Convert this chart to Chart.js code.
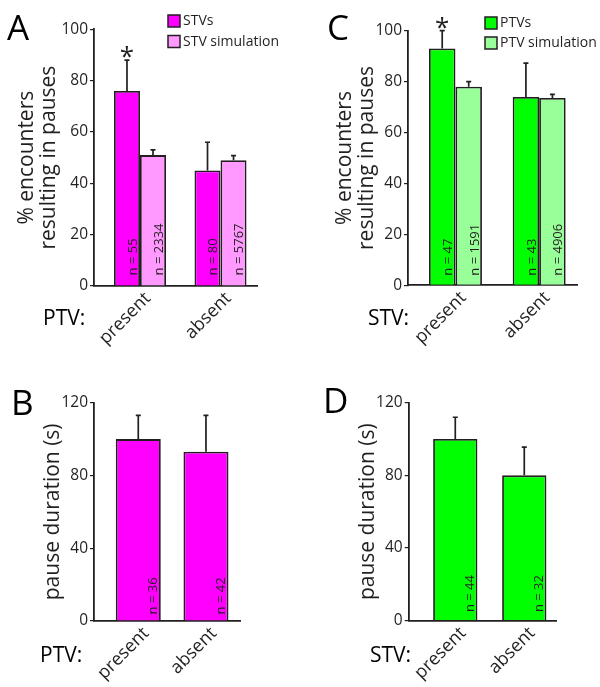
<!DOCTYPE html>
<html><head><meta charset="utf-8">
<script src="https://cdn.jsdelivr.net/npm/chart.js@4"></script>
<style>
html,body{margin:0;padding:0;background:#fff;}
body{width:600px;height:687px;position:relative;overflow:hidden;}
.p{position:absolute;}
canvas{display:block;}
</style></head><body>
<div class="p" style="left:0;top:0"><canvas id="cA" width="300" height="352"></canvas></div>
<div class="p" style="left:300px;top:0"><canvas id="cC" width="300" height="352"></canvas></div>
<div class="p" style="left:0;top:340px"><canvas id="cB" width="300" height="347"></canvas></div>
<div class="p" style="left:300px;top:340px"><canvas id="cD" width="300" height="347"></canvas></div>
<script>
// ---- categories ----
const groupCats = ['present', 'absent'];

// ---- Panel A: STVs, % encounters resulting in pauses (PTV present/absent) ----
const stvRate = [76, 45];
const stvRateErrTop = [88, 56];
const stvSimRate = [51, 49];
const stvSimRateErrTop = [53, 50.8];
const stvRateN = ['55', '80'];
const stvSimRateN = ['2334', '5767'];
const stvRateStar = ['*', ''];

// ---- Panel C: PTVs, % encounters resulting in pauses (STV present/absent) ----
const ptvRate = [93, 74];
const ptvRateErrTop = [100, 87.3];
const ptvSimRate = [78, 73.6];
const ptvSimRateErrTop = [80, 75];
const ptvRateN = ['47', '43'];
const ptvSimRateN = ['1591', '4906'];
const ptvRateStar = ['*', ''];

// ---- Panel B: STV pause duration (s) ----
const stvPause = [100, 93];
const stvPauseErrTop = [113, 113];
const stvPauseN = ['36', '42'];

// ---- Panel D: PTV pause duration (s) ----
const ptvPause = [100, 80];
const ptvPauseErrTop = [112, 95.5];
const ptvPauseN = ['44', '32'];

// ---- tick labels ----
const rateTicks = [0, 20, 40, 60, 80, 100];
const pauseTicks = [0, 40, 80, 120];

const F = "'Open Sans', sans-serif";
const INK = '#231f20';

function overlay(cfg) {
  return {
    id: 'overlay' + cfg.id,
    afterDatasetsDraw(chart) {
      const ctx = chart.ctx, ys = chart.scales.y;
      chart.data.datasets.forEach((ds, di) => {
        const meta = chart.getDatasetMeta(di);
        meta.data.forEach((bar, i) => {
          const top = ys.getPixelForValue(ds.errTop[i]);
          ctx.save();
          ctx.strokeStyle = INK; ctx.lineWidth = 1.7;
          ctx.beginPath();
          ctx.moveTo(bar.x, bar.y); ctx.lineTo(bar.x, top);
          ctx.moveTo(bar.x - 2.5, top); ctx.lineTo(bar.x + 2.5, top);
          ctx.stroke();
          if (ds.star && ds.star[i]) {
            ctx.font = `26px ${F}`; ctx.fillStyle = INK;
            ctx.textAlign = 'center'; ctx.textBaseline = 'alphabetic';
            ctx.fillText(ds.star[i], bar.x, top + 5);
          }
          ctx.translate(bar.x + bar.width / 2 - 3.3, bar.base - cfg.nLift);
          ctx.rotate(-Math.PI / 2);
          ctx.font = `13px ${F}`; ctx.fillStyle = INK;
          ctx.textAlign = 'left'; ctx.textBaseline = 'alphabetic';
          ctx.fillText('n = ' + ds.nLabels[i], 0, 0);
          ctx.restore();
        });
      });
    },
    afterDraw(chart) {
      const ctx = chart.ctx;
      ctx.save();
      ctx.fillStyle = '#000';
      ctx.textAlign = 'left'; ctx.textBaseline = 'alphabetic';
      ctx.font = `35px ${F}`;
      ctx.fillText(cfg.letter, cfg.letterX, cfg.letterY);
      ctx.font = `21px ${F}`;
      ctx.fillText(cfg.groupLabel, cfg.groupX, cfg.groupY);
      if (cfg.legend) {
        ctx.font = `14px ${F}`;
        ctx.textBaseline = 'middle';
        chart.data.datasets.forEach((ds, di) => {
          const bx = cfg.legend.x, by = cfg.legend.y + di * cfg.legend.step;
          ctx.fillStyle = ds.backgroundColor;
          ctx.fillRect(bx, by, 12, 12);
          ctx.strokeStyle = INK; ctx.lineWidth = 1.5;
          ctx.strokeRect(bx, by, 12, 12);
          ctx.fillStyle = INK;
          ctx.fillText(ds.label, bx + 15, by + 6.5);
        });
      }
      ctx.restore();
    }
  };
}

function makePanel(cfg) {
  const datasets = cfg.series.map(s => ({
    label: s.label,
    data: s.values.map((v, i) => ({ x: i, y: v })),
    backgroundColor: s.color,
    borderColor: INK,
    borderWidth: 1.8,
    categoryPercentage: cfg.catPct,
    barPercentage: 1,
    errTop: s.errTop,
    nLabels: s.n,
    star: s.star
  }));
  return new Chart(document.getElementById(cfg.id), {
    type: 'bar',
    data: { datasets },
    options: {
      responsive: false, animation: false, devicePixelRatio: 1,
      layout: { padding: { top: cfg.top, right: cfg.right, left: 0, bottom: 0 } },
      plugins: { legend: { display: false }, tooltip: { enabled: false } },
      scales: {
        x: {
          type: 'linear', min: cfg.xmin, max: cfg.xmax, offset: false,
          afterBuildTicks: s => { s.ticks = groupCats.map((c, i) => ({ value: i })); },
          afterFit: s => { s.height = cfg.xH; },
          grid: { display: false, drawTicks: false },
          border: { display: true, color: INK, width: 1.8 },
          ticks: {
            autoSkip: false, minRotation: 45, maxRotation: 45, labelOffset: 8, padding: 2,
            callback: v => groupCats[v],
            font: { family: F, size: 18 }, color: INK
          }
        },
        y: {
          min: 0, max: cfg.ymax,
          afterBuildTicks: s => { s.ticks = cfg.yTicks.map(v => ({ value: v })); },
          afterFit: s => { s.width = cfg.yW; },
          grid: { drawOnChartArea: false, drawTicks: true, tickLength: 4, color: INK, lineWidth: 1.2 },
          border: { display: true, color: INK, width: 1.8 },
          ticks: { font: { family: F, size: 15.5 }, color: INK, padding: 2 },
          title: {
            display: true, text: cfg.yTitle, color: INK,
            font: { family: F, size: 21, lineHeight: 1.05 },
            padding: { top: cfg.titlePad, bottom: 0 }
          }
        }
      }
    },
    plugins: [overlay(cfg)]
  });
}

makePanel({
  id: 'cA', letter: 'A', letterX: 7, letterY: 40, groupLabel: 'PTV:', groupX: 43, groupY: 325,
  top: 29.3, right: 43, yW: 94, xH: 66, xmin: -0.571, xmax: 1.453, catPct: 0.646,
  ymax: 100, yTicks: rateTicks, yTitle: ['% encounters', 'resulting in pauses'], titlePad: 16, nLift: 10,
  legend: { x: 168, y: 15, step: 20.5 },
  series: [
    { label: 'STVs', values: stvRate, errTop: stvRateErrTop, n: stvRateN, star: stvRateStar, color: '#ff00ff' },
    { label: 'STV simulation', values: stvSimRate, errTop: stvSimRateErrTop, n: stvSimRateN, color: '#ff99ff' }
  ]
});

makePanel({
  id: 'cC', letter: 'C', letterX: 27, letterY: 40, groupLabel: 'STV:', groupX: 68, groupY: 325,
  top: 30.7, right: 23, yW: 108, xH: 66.7, xmin: -0.567, xmax: 1.452, catPct: 0.633,
  ymax: 100, yTicks: rateTicks, yTitle: ['% encounters', 'resulting in pauses'], titlePad: 34.2, nLift: 9,
  legend: { x: 185, y: 17, step: 20 },
  series: [
    { label: 'PTVs', values: ptvRate, errTop: ptvRateErrTop, n: ptvRateN, star: ptvRateStar, color: '#00ff00' },
    { label: 'PTV simulation', values: ptvSimRate, errTop: ptvSimRateErrTop, n: ptvSimRateN, color: '#99ff99' }
  ]
});

makePanel({
  id: 'cB', letter: 'B', letterX: 11, letterY: 75, groupLabel: 'PTV:', groupX: 40, groupY: 321.7,
  top: 62.7, right: 59.3, yW: 94, xH: 66, xmin: -0.654, xmax: 1.513, catPct: 0.665,
  ymax: 120, yTicks: pauseTicks, yTitle: 'pause duration (s)', titlePad: 42, nLift: 6,
  series: [
    { label: 'STVs', values: stvPause, errTop: stvPauseErrTop, n: stvPauseN, color: '#ff00ff' }
  ]
});

makePanel({
  id: 'cD', letter: 'D', letterX: 23, letterY: 73, groupLabel: 'STV:', groupX: 70, groupY: 321.7,
  top: 62.7, right: 43.3, yW: 108.7, xH: 66.3, xmin: -0.675, xmax: 1.47, catPct: 0.642,
  ymax: 120, yTicks: pauseTicks, yTitle: 'pause duration (s)', titlePad: 57, nLift: 8,
  series: [
    { label: 'PTVs', values: ptvPause, errTop: ptvPauseErrTop, n: ptvPauseN, color: '#00ff00' }
  ]
});
</script>
</body></html>
